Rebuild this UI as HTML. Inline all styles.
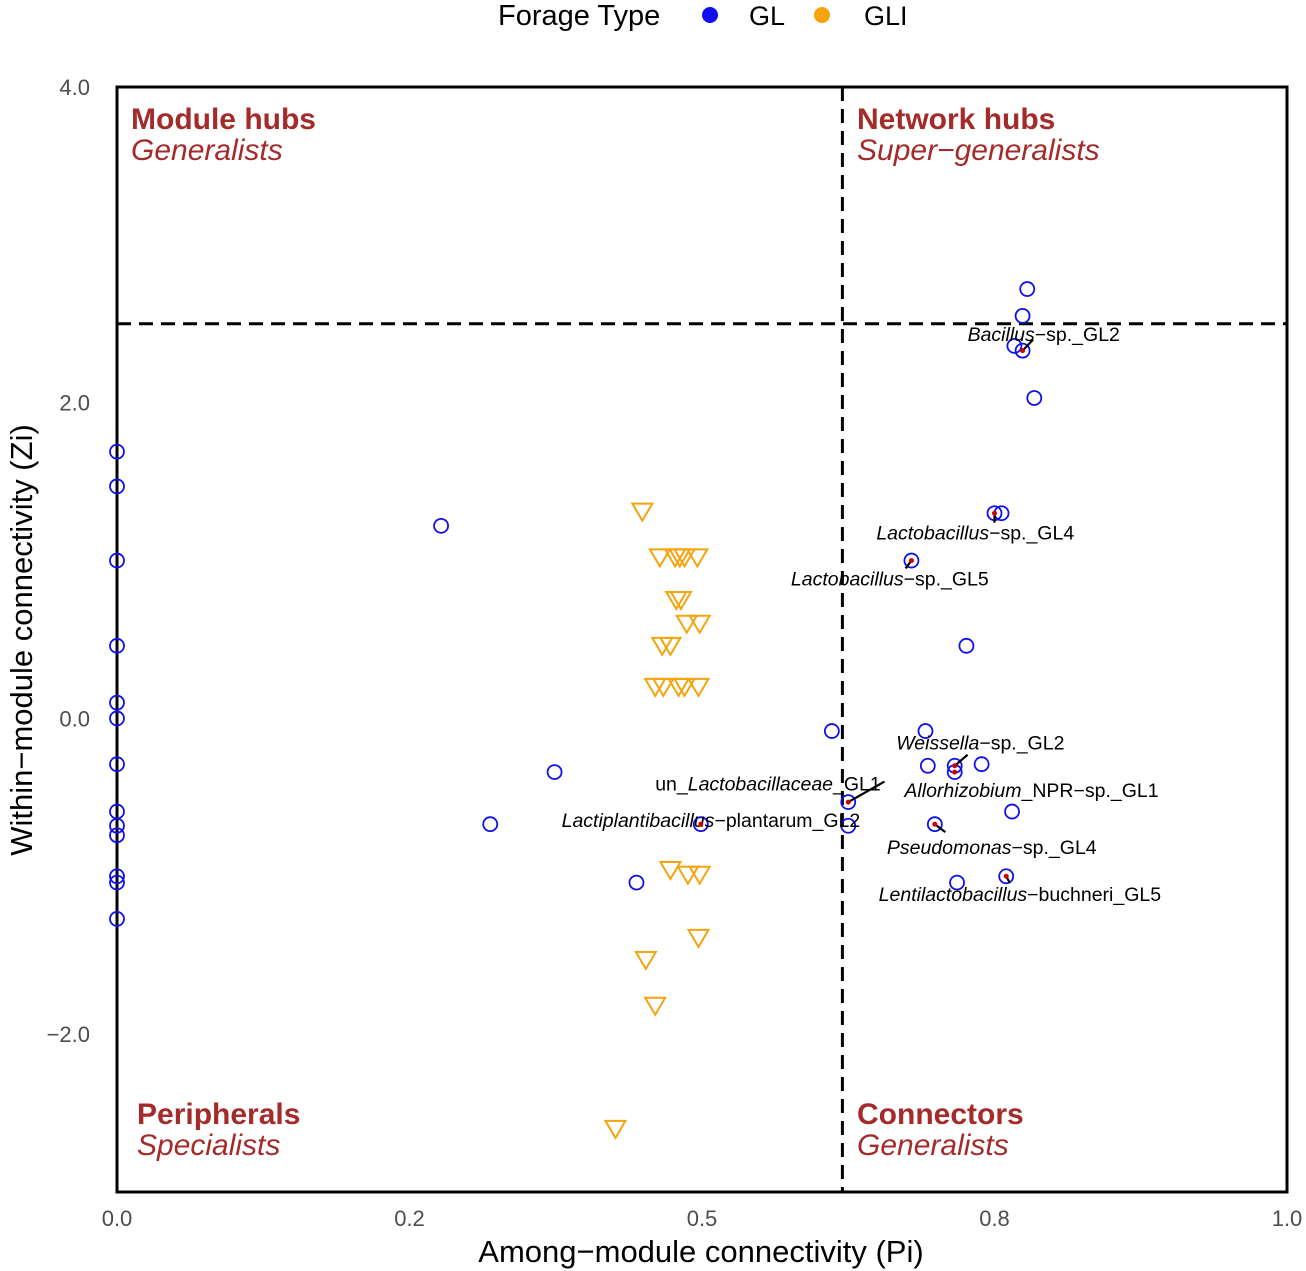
<!DOCTYPE html>
<html><head><meta charset="utf-8">
<style>
body{margin:0;background:#fff;}
svg{display:block;font-family:"Liberation Sans",sans-serif;}
</style></head>
<body>
<svg id="chart" width="1306" height="1271" viewBox="0 0 1306 1271" xmlns="http://www.w3.org/2000/svg">
<g>
<text x="498" y="25" font-size="29" fill="#000">Forage Type</text>
<circle cx="710" cy="15" r="8" fill="#1010ee"/>
<text x="749" y="25" font-size="27">GL</text>
<circle cx="822" cy="15" r="8" fill="#f5a40e"/>
<text x="864" y="25" font-size="27">GLI</text>
</g>
<g id="plot"></g>
<text x="701" y="1262" font-size="31" text-anchor="middle">Among−module connectivity (Pi)</text>
<text transform="translate(32,640) rotate(-90)" font-size="31" text-anchor="middle">Within−module connectivity (Zi)</text>
</svg>
<script>
const xTickVals=[0,0.25,0.5,0.75,1];
const xTickLabels=["0.0","0.2","0.5","0.8","1.0"];
const yTickVals=[4,2,0,-2];
const yTickLabels=["4.0","2.0","0.0","−2.0"];
const glX=[0,0,0,0,0,0,0,0,0,0,0,0,0,0.277,0.374,0.319,0.444,0.499,0.611,0.625,0.625,0.679,0.75,0.756,0.726,0.778,0.774,0.767,0.774,0.784,0.691,0.693,0.716,0.739,0.699,0.765,0.760,0.718,0.716];
const glY=[1.69,1.47,1.0,0.46,0.1,0,-0.29,-0.59,-0.68,-0.74,-1.0,-1.04,-1.27,1.22,-0.34,-0.67,-1.04,-0.67,-0.08,-0.53,-0.68,1.0,1.30,1.30,0.46,2.72,2.55,2.36,2.33,2.03,-0.08,-0.30,-0.30,-0.29,-0.67,-0.59,-1.0,-1.04,-0.34];
const gliX=[0.449,0.464,0.477,0.481,0.485,0.496,0.478,0.482,0.487,0.498,0.466,0.473,0.460,0.467,0.480,0.485,0.497,0.473,0.488,0.498,0.497,0.452,0.460,0.426];
const gliY=[1.31,1.02,1.02,1.02,1.02,1.02,0.75,0.75,0.6,0.6,0.46,0.46,0.2,0.2,0.2,0.2,0.2,-0.96,-0.99,-0.99,-1.39,-1.53,-1.82,-2.6];
const labNames=["Bacillus|−sp._GL2","Lactobacillus|−sp._GL4","Lactobacillus|−sp._GL5","Weissella|−sp._GL2","un_|Lactobacillaceae|_GL1","Allorhizobium|_NPR−sp._GL1","Lactiplantibacillus|−plantarum_GL2","Pseudomonas|−sp._GL4","Lentilactobacillus|−buchneri_GL5"];
const labPx=[0.774,0.75,0.679,0.716,0.625,0.716,0.499,0.699,0.760];
const labPy=[2.33,1.30,1.0,-0.30,-0.53,-0.34,-0.67,-0.67,-1.0];
const labTx=[0.727,0.649,0.576,0.666,0.460,0.673,0.380,0.658,0.651];
const labTy=[2.43,1.17,0.88,-0.16,-0.42,-0.46,-0.65,-0.82,-1.12];
const leadX=[0.783,0.75,0.674,0.727,0.656,0.716,0.499,0.708,0.763];
const leadY=[2.40,1.24,0.95,-0.23,-0.40,-0.34,-0.67,-0.72,-1.04];

const X0=117,X1=1287,Y0=87,Y1=1192;
const xs=v=>X0+v*(X1-X0);
const ys=v=>Y0+(4-v)*(Y1-Y0)/7;
const NS="http://www.w3.org/2000/svg";
const g=document.getElementById('plot');
function mk(t,a){const e=document.createElementNS(NS,t);for(const k in a)e.setAttribute(k,a[k]);g.appendChild(e);return e;}

let r=mk('rect',{x:X0,y:Y0,width:X1-X0,height:Y1-Y0,fill:'none',stroke:'#000','stroke-width':3});


let vl=mk('line',{x1:xs(0.62),x2:xs(0.62),y1:Y0,y2:Y1,stroke:'#000','stroke-width':3,'stroke-dasharray':'14,8'});


let hl=mk('line',{x1:X0,x2:X1,y1:ys(2.5),y2:ys(2.5),stroke:'#000','stroke-width':3,'stroke-dasharray':'14,8'});



xTickVals.forEach((v,i)=>{const t=mk('text',{x:xs(v),y:1226,'font-size':22,fill:'#4d4d4d','text-anchor':'middle'});t.textContent=xTickLabels[i];

});
yTickVals.forEach((v,i)=>{const t=mk('text',{x:90,y:ys(v)+8,'font-size':22,fill:'#4d4d4d','text-anchor':'end'});t.textContent=yTickLabels[i];

});

const quads=[["Module hubs","Generalists",131,119],["Network hubs","Super−generalists",857,119],["Peripherals","Specialists",137,1114],["Connectors","Generalists",857,1114]];
quads.forEach(q=>{const a=mk('text',{x:q[2],y:q[3]+10,'font-size':30,'font-weight':'bold',fill:'#a52a2a'});a.textContent=q[0];


const b=mk('text',{x:q[2],y:q[3]+41,'font-size':30,'font-style':'italic',fill:'#a52a2a'});b.textContent=q[1];

});

gliX.forEach((v,i)=>{const cx=xs(v),cy=ys(gliY[i]);
const p=mk('polygon',{points:`${cx-10},${cy-8} ${cx+10},${cy-8} ${cx},${cy+9}`,fill:'none',stroke:'#f5a40e','stroke-width':2});

});
glX.forEach((v,i)=>{const c=mk('circle',{cx:xs(v),cy:ys(glY[i]),r:7,fill:'none',stroke:'#1010ee','stroke-width':1.8});

});

labNames.forEach((n,i)=>{const px=xs(labPx[i]),py=ys(labPy[i]),tx=xs(labTx[i]),ty=ys(labTy[i]);
const t=mk('text',{x:tx,y:ty+6,'font-size':19.5,fill:'#000'});
const parts=n.split('|');
parts.forEach((s,j)=>{const sp=document.createElementNS(NS,'tspan');sp.textContent=s;
const ital=(parts.length===3)?(j===1):(j===0);if(ital)sp.setAttribute('font-style','italic');t.appendChild(sp);});


const lx=xs(leadX[i]),ly=ys(leadY[i]);
if(Math.hypot(lx-px,ly-py)>3){const l=mk('line',{x1:lx,y1:ly,x2:px,y2:py,stroke:'#000','stroke-width':2.2});

}
const d=mk('circle',{cx:px,cy:py,r:2.5,fill:'#d00000'});

});
</script>
</body></html>
